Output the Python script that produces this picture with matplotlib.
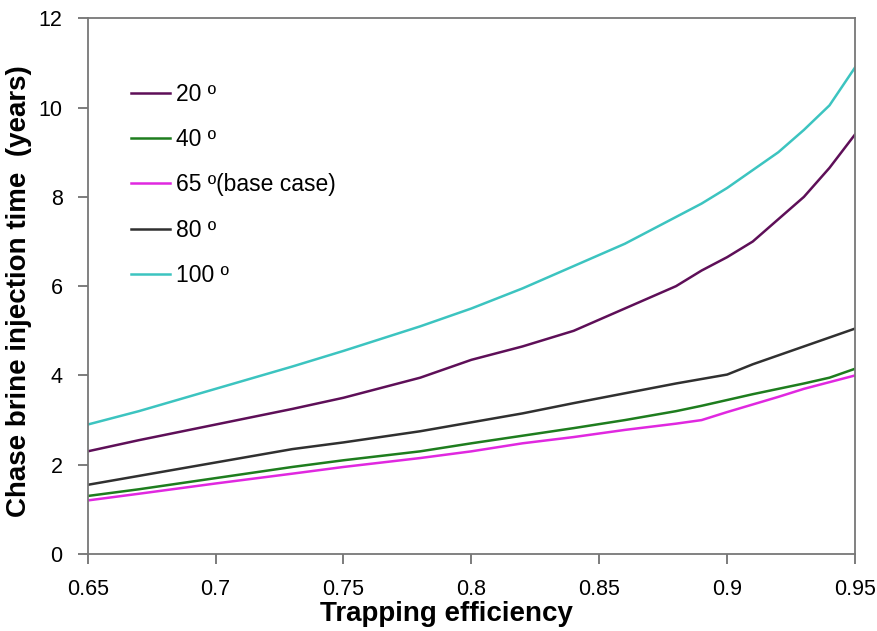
import matplotlib
matplotlib.use('Agg')
import matplotlib.pyplot as plt

plt.rcParams['font.family'] = ['Liberation Sans', 'DejaVu Sans']

# trapping efficiency (x) and injection time (years) per dip angle
eff = [0.65, 0.67, 0.70, 0.73, 0.75, 0.78, 0.80, 0.82, 0.84, 0.86, 0.88, 0.89, 0.90, 0.91, 0.92, 0.93, 0.94, 0.95]
t_20 = [2.30, 2.55, 2.90, 3.25, 3.50, 3.95, 4.35, 4.65, 5.00, 5.50, 6.00, 6.35, 6.65, 7.00, 7.50, 8.00, 8.65, 9.40]
t_40 = [1.30, 1.45, 1.70, 1.95, 2.10, 2.30, 2.48, 2.65, 2.82, 3.00, 3.20, 3.32, 3.45, 3.58, 3.70, 3.82, 3.95, 4.15]
t_65 = [1.20, 1.35, 1.58, 1.80, 1.95, 2.15, 2.30, 2.48, 2.62, 2.78, 2.92, 3.00, 3.18, 3.35, 3.52, 3.70, 3.85, 4.00]
t_80 = [1.55, 1.75, 2.05, 2.35, 2.50, 2.75, 2.95, 3.15, 3.38, 3.60, 3.82, 3.92, 4.02, 4.25, 4.45, 4.65, 4.85, 5.05]
t_100 = [2.90, 3.20, 3.70, 4.20, 4.55, 5.10, 5.50, 5.95, 6.45, 6.95, 7.55, 7.85, 8.20, 8.60, 9.00, 9.50, 10.05, 10.90]

labels = ['20 \u00ba', '40 \u00ba', '65 \u00ba(base case)', '80 \u00ba', '100 \u00ba']
colors = ['#5e0f58', '#1e7d1e', '#e028e0', '#303030', '#3cc4c0']

fig, ax = plt.subplots(figsize=(8.77, 6.31), dpi=100)
fig.subplots_adjust(left=0.100, right=0.975, bottom=0.122, top=0.971)

for y, lab, c in zip([t_20, t_40, t_65, t_80, t_100], labels, colors):
    ax.plot(eff, y, color=c, lw=1.8, label=lab)

ax.set_xlim(0.65, 0.95)
ax.set_ylim(0, 12)
ax.set_xticks([0.65, 0.7, 0.75, 0.8, 0.85, 0.9, 0.95])
ax.set_xticklabels(['0.65', '0.7', '0.75', '0.8', '0.85', '0.9', '0.95'])
ax.set_yticks(range(0, 13, 2))
ax.tick_params(direction='out', length=7, width=1.2, color='#666666', labelsize=15.5)
ax.tick_params(axis='y', pad=11)
ax.tick_params(axis='x', pad=11)
for s in ax.spines.values():
    s.set_color('#777777')
    s.set_linewidth(1.3)

ax.set_xlabel('Trapping efficiency', fontsize=20, fontweight='bold')
ax.set_ylabel('Chase brine injection time  (years)', fontsize=20, fontweight='bold')
ax.xaxis.set_label_coords(0.468, -0.088)
ax.yaxis.set_label_coords(-0.072, 0.49)

ax.legend(loc='upper left', bbox_to_anchor=(0.03, 0.918), frameon=False, fontsize=16.5,
          handlelength=1.7, handletextpad=0.25, labelspacing=0.97)

fig.savefig('out.png', dpi=100)
